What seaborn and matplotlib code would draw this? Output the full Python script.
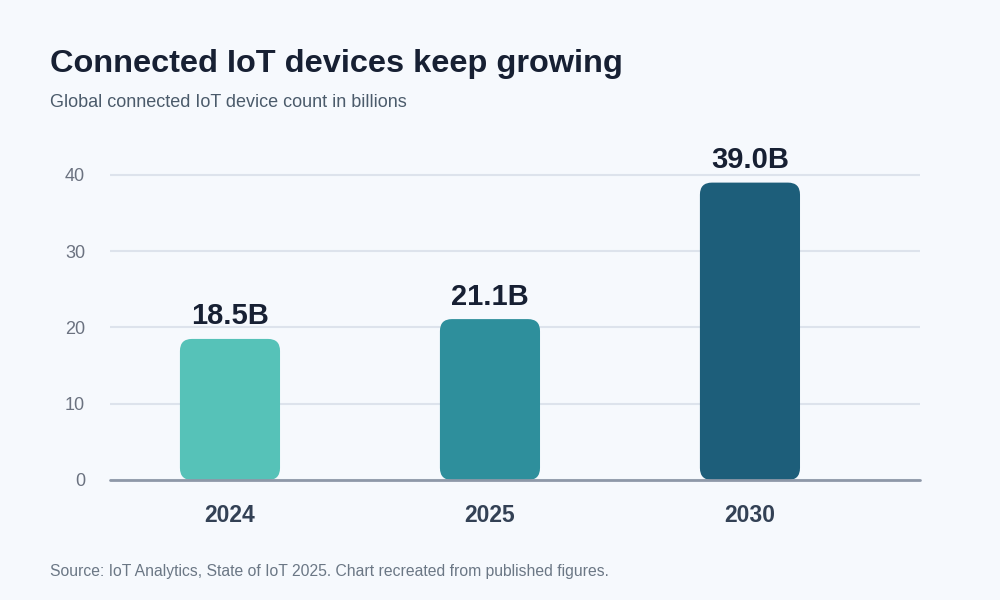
import matplotlib.pyplot as plt
import pandas as pd
import seaborn as sns
from matplotlib.patches import FancyBboxPatch

years = ["2024", "2025", "2030"]
devices = [18.5, 21.1, 39.0]
value_labels = ["18.5B", "21.1B", "39.0B"]
bar_colors = ["#56c2b8", "#2e8f9c", "#1d5e7a"]
y_ticks = [0, 10, 20, 30, 40]

df = pd.DataFrame({"year": years, "devices": devices})

sns.set_theme(style="white")
plt.rcParams["font.family"] = ["Liberation Sans", "DejaVu Sans"]

bg = "#f6f9fd"
fig = plt.figure(figsize=(10, 6), dpi=100, facecolor=bg)
ax = fig.add_axes([0.11, 0.2, 0.81, 0.5667])
ax.set_facecolor(bg)

sns.barplot(data=df, x="year", y="devices", hue="year", palette=bar_colors,
            width=0.385, saturation=1, legend=False, ax=ax)

xlim = (-0.4615, 2.654)
ylim = (0, 44.59)
ax.set_xlim(*xlim)
ax.set_ylim(*ylim)

# swap the plain bars for rounded ones
w_px, h_px = 810, 340
aspect = ((ylim[1] - ylim[0]) / h_px) / ((xlim[1] - xlim[0]) / w_px)
radius = 12 * (xlim[1] - xlim[0]) / w_px
for p in list(ax.patches):
    x, y, w, h = p.get_x(), p.get_y(), p.get_width(), p.get_height()
    fc = p.get_facecolor()
    p.remove()
    ax.add_patch(FancyBboxPatch((x, y), w, h,
                                boxstyle=f"round,pad=0,rounding_size={radius}",
                                mutation_aspect=aspect, fc=fc, ec="none", zorder=2))

for i, (v, lab) in enumerate(zip(devices, value_labels)):
    ax.annotate(lab, (i, v), xytext=(0, 10.5), textcoords="offset points",
                ha="center", va="baseline", fontsize=21, fontweight="bold",
                color="#172033")

sns.despine(ax=ax, left=True, bottom=True)
ax.axhline(0, color="#8e98a8", lw=2, zorder=3, clip_on=False)
ax.set_yticks(y_ticks)
ax.yaxis.grid(True, color="#dde3ec", lw=1.5)
ax.set_axisbelow(True)
ax.set_xlabel("")
ax.set_ylabel("")
ax.tick_params(axis="y", length=0, pad=18, labelsize=13, labelcolor="#6b7280")
ax.tick_params(axis="x", length=0, pad=17, labelsize=16.5, labelcolor="#334155")
for lbl in ax.get_xticklabels():
    lbl.set_fontweight("bold")

fig.text(0.05, 1 - 72 / 600, "Connected IoT devices keep growing", fontsize=23.4,
         fontweight="bold", color="#172033", va="baseline")
fig.text(0.05, 1 - 107 / 600, "Global connected IoT device count in billions",
         fontsize=13, color="#4b5b6b", va="baseline")
fig.text(0.05, 1 - 576 / 600,
         "Source: IoT Analytics, State of IoT 2025. Chart recreated from published figures.",
         fontsize=11.3, color="#6b7785", va="baseline")

fig.savefig("out.png", dpi=100, facecolor=bg)
